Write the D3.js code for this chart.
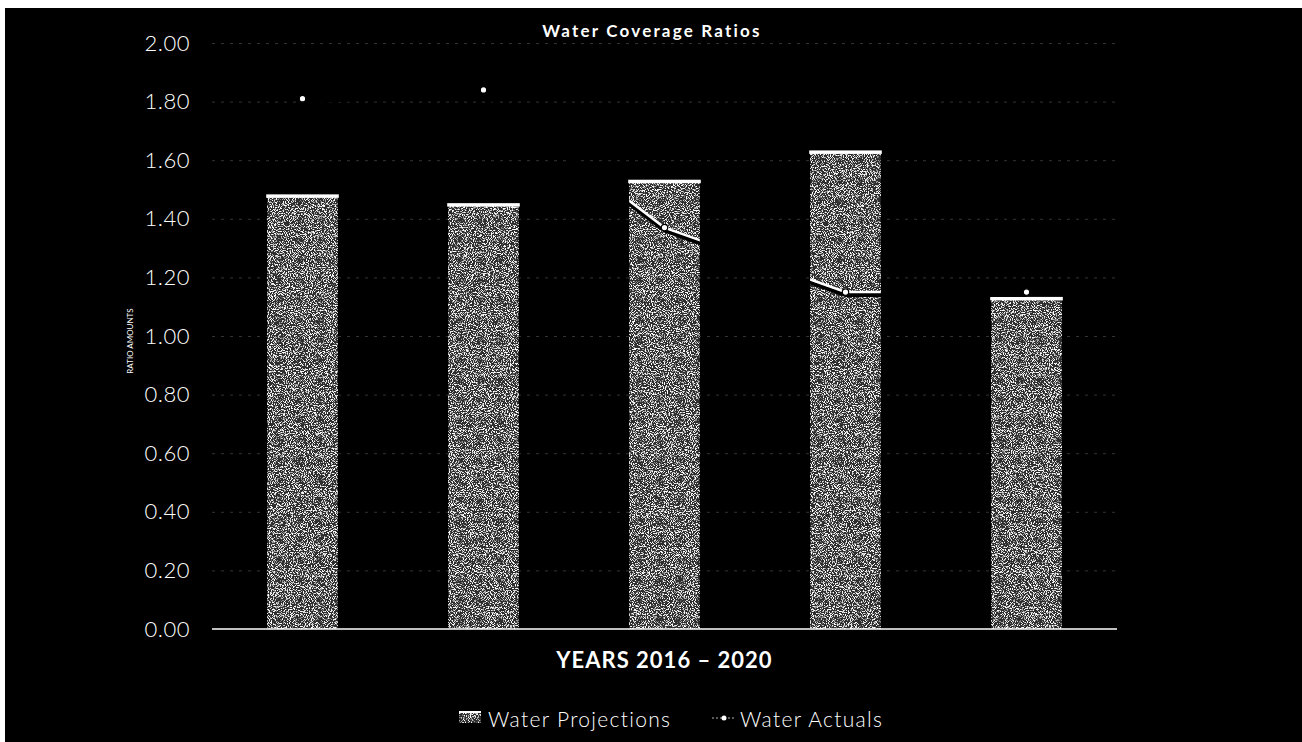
<!DOCTYPE html>
<html>
<head>
<meta charset="utf-8">
<script src="https://cdn.jsdelivr.net/npm/d3@7"></script>
<style>
  html, body { margin: 0; padding: 0; background: #fff; }
  svg { display: block; }
  text { font-family: Lato, "Noto Sans", sans-serif; fill: #fff; }
</style>
</head>
<body>
<svg id="chart" width="1302" height="742"></svg>
<script>
// Chart data
const years = ["2016", "2017", "2018", "2019", "2020"];
const projections = [1.48, 1.45, 1.53, 1.63, 1.13];
const actuals = [1.81, 1.84, 1.37, 1.15, 1.15];
const yTicks = [0, 0.2, 0.4, 0.6, 0.8, 1.0, 1.2, 1.4, 1.6, 1.8, 2.0];

const W = 1302, H = 742;
const margin = { left: 212, right: 185, top: 43, bottom: 113 };
const svg = d3.select("#chart");

// Frame: dark panel with light strip along top and left edges
svg.append("rect").attr("width", W).attr("height", H).attr("fill", "#fff");
svg.append("rect").attr("x", 5).attr("y", 8).attr("width", W - 5).attr("height", H - 8).attr("fill", "#000");

const defs = svg.append("defs");
const grain = defs.append("filter").attr("id", "grain")
  .attr("x", 0).attr("y", 0).attr("width", 1).attr("height", 1);
grain.append("feTurbulence").attr("type", "fractalNoise")
  .attr("baseFrequency", 0.95).attr("numOctaves", 2).attr("seed", 7).attr("result", "noise");
grain.append("feColorMatrix").attr("in", "noise").attr("type", "matrix")
  .attr("values", "0 0 0 0 1  0 0 0 0 1  0 0 0 0 1  7 0 0 0 -3.55").attr("result", "speck");
grain.append("feComposite").attr("in", "speck").attr("in2", "SourceGraphic")
  .attr("operator", "in").attr("result", "speckIn");
const merge = grain.append("feMerge");
merge.append("feMergeNode").attr("in", "SourceGraphic");
merge.append("feMergeNode").attr("in", "speckIn");

const x = d3.scaleBand().domain(years)
  .range([margin.left, W - margin.right]).paddingInner(0.61).paddingOuter(0.305);
const y = d3.scaleLinear().domain([0, 2]).range([H - margin.bottom, margin.top]);

// Gridlines
svg.append("g")
  .attr("transform", `translate(${margin.left},0)`)
  .call(d3.axisLeft(y).tickValues(yTicks.filter(d => d > 0))
    .tickSize(-(W - margin.left - margin.right)).tickFormat(""))
  .call(g => g.select(".domain").remove())
  .call(g => g.selectAll("line").attr("stroke", "#fff").attr("stroke-opacity", 0.2)
    .attr("stroke-dasharray", "3,6"));

// Y tick labels
svg.append("g")
  .attr("transform", `translate(${margin.left},0)`)
  .call(d3.axisLeft(y).tickValues(yTicks).tickSize(0).tickPadding(22).tickFormat(d3.format(".2f")))
  .call(g => g.select(".domain").remove())
  .call(g => g.selectAll("text").attr("fill", "#fff")
    .style("font-family", "Lato, sans-serif").style("font-weight", "300")
    .style("font-size", "22px").style("letter-spacing", "0.5px"));

// Projection bars with grainy fill
const bars = svg.append("g");
bars.selectAll("rect.bar").data(years).join("rect").attr("class", "bar")
  .attr("x", d => x(d)).attr("width", x.bandwidth())
  .attr("y", (d, i) => y(projections[i]))
  .attr("height", (d, i) => y(0) - y(projections[i]))
  .attr("fill", "#2e2e2e").attr("filter", "url(#grain)");
bars.selectAll("rect.cap").data(years).join("rect").attr("class", "cap")
  .attr("x", d => x(d) - 1).attr("width", x.bandwidth() + 2)
  .attr("y", (d, i) => y(projections[i]) - 1).attr("height", 3.5)
  .attr("fill", "#fff");

// Clip region for the actuals line highlight (only shows over bars)
const clip = defs.append("clipPath").attr("id", "barClip");
clip.selectAll("rect").data(years).join("rect")
  .attr("x", d => x(d)).attr("width", x.bandwidth())
  .attr("y", (d, i) => y(projections[i]) + 3)
  .attr("height", (d, i) => y(0) - y(projections[i]));

// Baseline axis
svg.append("line")
  .attr("x1", margin.left).attr("x2", W - margin.right)
  .attr("y1", y(0)).attr("y2", y(0))
  .attr("stroke", "#fff").attr("stroke-width", 1.5);

// Actuals line
const cx = d => x(d) + x.bandwidth() / 2;
const line = d3.line().x((d, i) => cx(years[i])).y(d => y(d));
svg.append("path").datum(actuals).attr("d", line)
  .attr("fill", "none").attr("stroke", "#000").attr("stroke-width", 4)
  .attr("transform", "translate(0,3)");
svg.append("path").datum(actuals).attr("d", line)
  .attr("fill", "none").attr("stroke", "#fff").attr("stroke-width", 2.5)
  .attr("clip-path", "url(#barClip)");
svg.append("g").selectAll("circle").data(actuals).join("circle")
  .attr("cx", (d, i) => cx(years[i])).attr("cy", d => y(d)).attr("r", 3.2)
  .attr("fill", "#fff").attr("stroke", "#000").attr("stroke-width", 1.2);

// Titles
svg.append("text").attr("x", 652).attr("y", 37).attr("text-anchor", "middle")
  .style("font-size", "17px").style("font-weight", "bold").style("letter-spacing", "2.2px")
  .text("Water Coverage Ratios");
svg.append("text").attr("x", (margin.left + W - margin.right) / 2).attr("y", 668)
  .attr("text-anchor", "middle")
  .style("font-size", "22px").style("font-weight", "bold").style("letter-spacing", "1px")
  .text("YEARS 2016 \u2013 2020");
svg.append("text").attr("transform", "translate(133,341) rotate(-90)")
  .attr("text-anchor", "middle").style("font-size", "8px")
  .text("RATIO AMOUNTS");

// Legend
const lg = svg.append("g").attr("transform", "translate(0,719)");
lg.append("rect").attr("x", 459).attr("y", -7).attr("width", 22).attr("height", 11)
  .attr("fill", "#2e2e2e").attr("filter", "url(#grain)");
lg.append("rect").attr("x", 459).attr("y", -8).attr("width", 22).attr("height", 2).attr("fill", "#fff");
lg.append("text").attr("x", 488).attr("y", 8).style("font-size", "21px").style("font-weight", "300")
  .style("letter-spacing", "1.3px").text("Water Projections");
lg.append("line").attr("x1", 712).attr("x2", 736).attr("y1", -1).attr("y2", -1)
  .attr("stroke", "#fff").attr("stroke-width", 1).attr("stroke-dasharray", "2,2").attr("stroke-opacity", 0.7);
lg.append("circle").attr("cx", 724).attr("cy", -1).attr("r", 2.5).attr("fill", "#fff");
lg.append("text").attr("x", 740).attr("y", 8).style("font-size", "21px").style("font-weight", "300")
  .style("letter-spacing", "1.3px").text("Water Actuals");
</script>
</body>
</html>
